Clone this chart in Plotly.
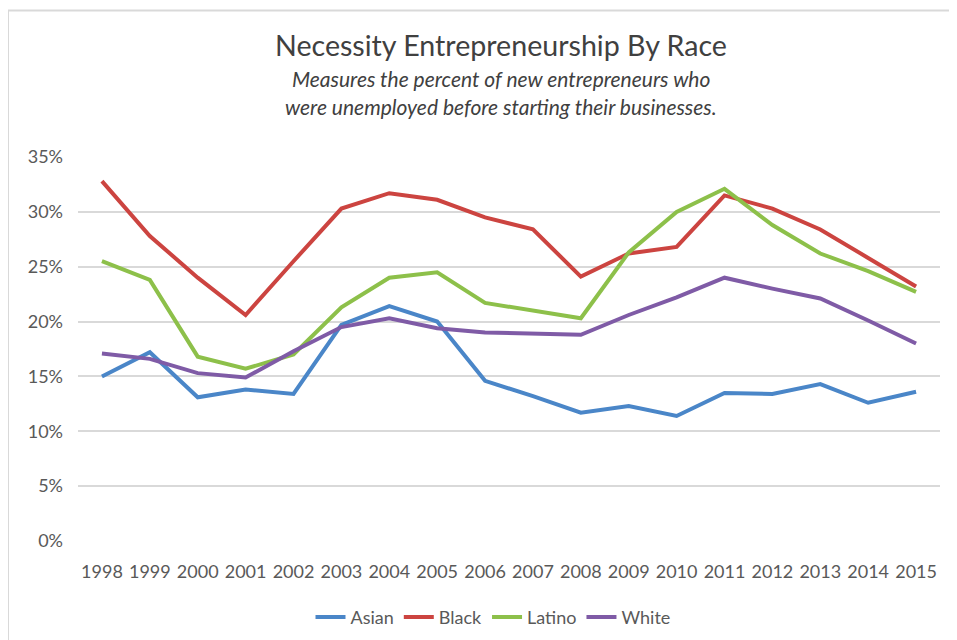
import plotly.graph_objects as go

years = [str(y) for y in range(1998, 2016)]
asian = [15.0, 17.2, 13.1, 13.8, 13.4, 19.7, 21.4, 20.0, 14.6, 13.2, 11.7, 12.3, 11.4, 13.5, 13.4, 14.3, 12.6, 13.6]
black = [32.8, 27.8, 24.0, 20.6, 25.5, 30.3, 31.7, 31.1, 29.5, 28.4, 24.1, 26.2, 26.8, 31.5, 30.3, 28.4, 25.8, 23.2]
latino = [25.5, 23.8, 16.8, 15.7, 17.0, 21.3, 24.0, 24.5, 21.7, 21.0, 20.3, 26.3, 30.0, 32.1, 28.8, 26.2, 24.6, 22.7]
white = [17.1, 16.6, 15.3, 14.9, 17.3, 19.5, 20.3, 19.4, 19.0, 18.9, 18.8, 20.6, 22.2, 24.0, 23.0, 22.1, 20.1, 18.0]

series = [("Asian", asian, "#4A86C8"), ("Black", black, "#CC4440"),
          ("Latino", latino, "#8DC04A"), ("White", white, "#7F5BA6")]

yticks = [0, 5, 10, 15, 20, 25, 30, 35]
ytick_labels = [f"{v}%" for v in yticks]

FONT = "Lato, Open Sans, sans-serif"

W, H = 957, 640
ML, MR, MT, MB = 70, 25, 149, 103
PW, PH = W - ML - MR, H - MT - MB


def py(pix):  # figure pixel y -> paper coordinate
    return (H - MB - pix) / PH


def px(pix):  # figure pixel x -> paper coordinate
    return (pix - ML) / PW


fig = go.Figure()
for name, vals, color in series:
    fig.add_trace(go.Scatter(x=years, y=vals, name=name, mode="lines",
                             line=dict(color=color, width=4)))

fig.update_layout(
    width=W, height=H,
    paper_bgcolor="white", plot_bgcolor="white",
    margin=dict(l=ML, r=MR, t=MT, b=MB),
    font=dict(family=FONT, color="#595959", size=17),
    showlegend=True,
    legend=dict(orientation="h", x=px(485), xanchor="center", y=py(614), yanchor="middle",
                font=dict(size=18, color="#595959"), itemwidth=30),
    xaxis=dict(type="category", range=[-0.5, 17.5], showgrid=False, showline=False,
               ticks="", tickfont=dict(size=18, color="#595959"), ticklabelstandoff=18),
    yaxis=dict(range=[0, 35], tickvals=yticks, ticktext=ytick_labels, showgrid=True,
               gridcolor="#D9D9D9", gridwidth=2, zeroline=False, showline=False, ticks="",
               tickfont=dict(size=18, color="#595959"), ticklabelstandoff=14),
    annotations=[
        dict(text="Necessity Entrepreneurship By Race", x=px(493), xref="paper", xanchor="center",
             y=py(36), yref="paper", yanchor="middle", showarrow=False,
             font=dict(size=28.6, color="#404040", family=FONT)),
        dict(text="<i>Measures the percent of new entrepreneurs who</i>", x=px(493), xref="paper",
             xanchor="center", y=py(70), yref="paper", yanchor="middle", showarrow=False,
             font=dict(size=21, color="#404040", family=FONT)),
        dict(text="<i>were unemployed before starting their businesses.</i>", x=px(493), xref="paper",
             xanchor="center", y=py(98), yref="paper", yanchor="middle", showarrow=False,
             font=dict(size=21, color="#404040", family=FONT)),
    ],
)

# outer chart border (top and left edges visible)
fig.add_shape(type="rect", xref="paper", yref="paper",
              x0=px(0), x1=px(1000), y0=py(700), y1=py(1),
              line=dict(color="#D9D9D9", width=2), fillcolor="rgba(0,0,0,0)", layer="below")

fig.write_html("out.html")
